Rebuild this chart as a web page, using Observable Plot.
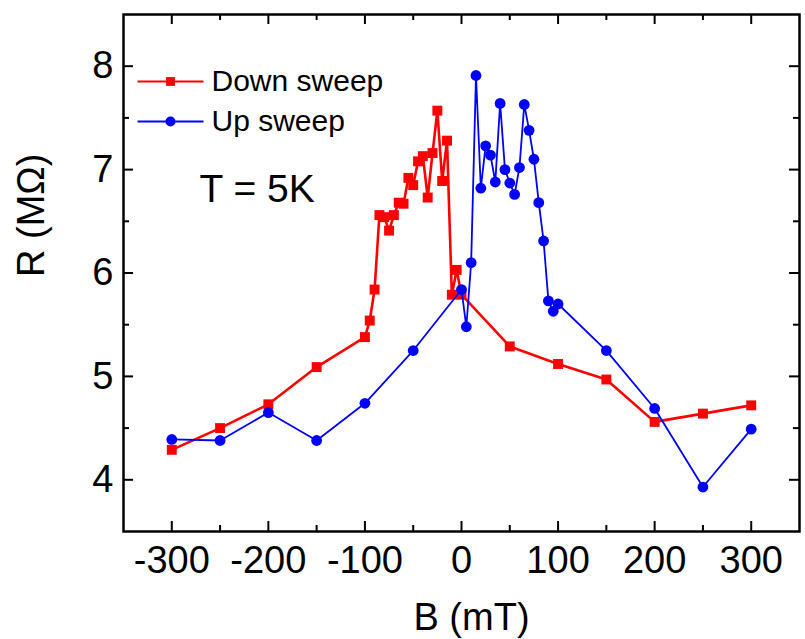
<!DOCTYPE html>
<html>
<head>
<meta charset="utf-8">
<script src="https://cdn.jsdelivr.net/npm/d3@7"></script>
<script src="https://cdn.jsdelivr.net/npm/@observablehq/plot@0.6"></script>
<style>
  html, body { margin: 0; padding: 0; background: #fff; }
  #chart svg { display: block; }
</style>
</head>
<body>
<div id="chart"></div>
<script>
// Down sweep (red squares)
const downB = [300, 250, 200, 150, 100, 50, 0, -5, -10, -15, -20, -25, -30, -35, -40, -45, -50, -55, -60, -65, -70, -75, -80, -85, -90, -95, -100, -150, -200, -250, -300];
const downR = [4.72, 4.64, 4.56, 4.97, 5.12, 5.29, 5.79, 6.03, 5.79, 7.28, 6.89, 7.57, 7.16, 6.73, 7.13, 7.08, 6.85, 6.92, 6.67, 6.68, 6.56, 6.41, 6.54, 6.56, 5.84, 5.54, 5.38, 5.09, 4.73, 4.50, 4.29];
// Up sweep (blue circles)
const upB = [-300, -250, -200, -150, -100, -50, 0, 5, 10, 15, 20, 25, 30, 35, 40, 45, 50, 55, 60, 65, 70, 75, 80, 85, 90, 95, 100, 150, 200, 250, 300];
const upR = [4.39, 4.38, 4.65, 4.38, 4.74, 5.25, 5.84, 5.48, 6.10, 7.91, 6.82, 7.23, 7.14, 6.88, 7.64, 7.00, 6.87, 6.76, 7.02, 7.63, 7.38, 7.10, 6.68, 6.31, 5.73, 5.63, 5.70, 5.25, 4.69, 3.93, 4.49];

const xMajorTicks = [-300, -200, -100, 0, 100, 200, 300];
const xMinorTicks = [-250, -150, -50, 50, 150, 250];
const yMajorTicks = [4, 5, 6, 7, 8];
const yMinorTicks = [4.5, 5.5, 6.5, 7.5];

const xLabel = "B (mT)";
const yLabel = "R (M\u03A9)";
const annotation = "T = 5K";
const seriesNames = ["Down sweep", "Up sweep"];
const seriesColors = ["#ff0000", "#0000ff"];

const down = downB.map((b, i) => ({B: b, R: downR[i]}));
const up = upB.map((b, i) => ({B: b, R: upR[i]}));

const W = 805, H = 639;
const mL = 123, mR = 6, mT = 14, mB = 108;
const plotW = W - mL - mR, plotH = H - mT - mB;
const font = "'Liberation Sans', Arial, Helvetica, sans-serif";

const lineSymbol = { draw(ctx) { ctx.moveTo(-33, 0); ctx.lineTo(33, 0); } };

const majorLen = 10, minorLen = 6;

const chart = Plot.plot({
  width: W,
  height: H,
  marginLeft: mL,
  marginRight: mR,
  marginTop: mT,
  marginBottom: mB,
  style: { fontFamily: font, background: "#fff", color: "#000" },
  x: { domain: [-350, 350] },
  y: { domain: [3.5, 8.5] },
  marks: [
    // tick labels
    Plot.axisX({ ticks: xMajorTicks, tickSize: 0, tickPadding: 15, fontSize: 38, label: null, tickFormat: d => String(d) }),
    Plot.axisY({ ticks: yMajorTicks, tickSize: 0, tickPadding: 10, fontSize: 38, label: null, tickFormat: d => String(d) }),
    // inward ticks: bottom/top
    Plot.tickX(xMajorTicks, { x: d => d, stroke: "black", strokeWidth: 2, insetTop: plotH - majorLen }),
    Plot.tickX(xMajorTicks, { x: d => d, stroke: "black", strokeWidth: 2, insetBottom: plotH - majorLen }),
    Plot.tickX(xMinorTicks, { x: d => d, stroke: "black", strokeWidth: 2, insetTop: plotH - minorLen }),
    Plot.tickX(xMinorTicks, { x: d => d, stroke: "black", strokeWidth: 2, insetBottom: plotH - minorLen }),
    // inward ticks: left/right
    Plot.tickY(yMajorTicks, { y: d => d, stroke: "black", strokeWidth: 2, insetRight: plotW - majorLen }),
    Plot.tickY(yMajorTicks, { y: d => d, stroke: "black", strokeWidth: 2, insetLeft: plotW - majorLen }),
    Plot.tickY(yMinorTicks, { y: d => d, stroke: "black", strokeWidth: 2, insetRight: plotW - minorLen }),
    Plot.tickY(yMinorTicks, { y: d => d, stroke: "black", strokeWidth: 2, insetLeft: plotW - minorLen }),
    // data: down sweep
    Plot.line(down, { x: "B", y: "R", stroke: seriesColors[0], strokeWidth: 2.6 }),
    Plot.dot(down, { x: "B", y: "R", symbol: "square", r: 5.6, fill: seriesColors[0], stroke: "none" }),
    // data: up sweep
    Plot.line(up, { x: "B", y: "R", stroke: seriesColors[1], strokeWidth: 1.8 }),
    Plot.dot(up, { x: "B", y: "R", symbol: "circle", r: 5.4, fill: seriesColors[1], stroke: "none" }),
    // legend
    Plot.dot([seriesNames[0]], { frameAnchor: "top-left", dx: 47, dy: 67, symbol: lineSymbol, stroke: seriesColors[0], strokeWidth: 2.2, fill: "none" }),
    Plot.dot([seriesNames[0]], { frameAnchor: "top-left", dx: 47, dy: 67, symbol: "square", r: 5, fill: seriesColors[0], stroke: "none" }),
    Plot.text([seriesNames[0]], { text: d => d, frameAnchor: "top-left", dx: 88, dy: 67, textAnchor: "start", lineAnchor: "middle", fontSize: 30, fill: "black" }),
    Plot.dot([seriesNames[1]], { frameAnchor: "top-left", dx: 47, dy: 107, symbol: lineSymbol, stroke: seriesColors[1], strokeWidth: 2.2, fill: "none" }),
    Plot.dot([seriesNames[1]], { frameAnchor: "top-left", dx: 47, dy: 107, symbol: "circle", r: 5, fill: seriesColors[1], stroke: "none" }),
    Plot.text([seriesNames[1]], { text: d => d, frameAnchor: "top-left", dx: 88, dy: 107, textAnchor: "start", lineAnchor: "middle", fontSize: 30, fill: "black" }),
    // annotation
    Plot.text([annotation], { text: d => d, frameAnchor: "top-left", dx: 76, dy: 175, textAnchor: "start", lineAnchor: "middle", fontSize: 39, fill: "black" }),
    // axis titles
    Plot.text([xLabel], { text: d => d, frameAnchor: "bottom", dx: 10, dy: 86, lineAnchor: "middle", fontSize: 38, fill: "black" }),
    Plot.text([yLabel], { text: d => d, frameAnchor: "left", dx: -92, dy: 4, rotate: -90, lineAnchor: "middle", fontSize: 38, fill: "black" }),
    // frame
    Plot.frame({ stroke: "black", strokeWidth: 2.5 })
  ]
});

document.getElementById("chart").appendChild(chart);
</script>
</body>
</html>
